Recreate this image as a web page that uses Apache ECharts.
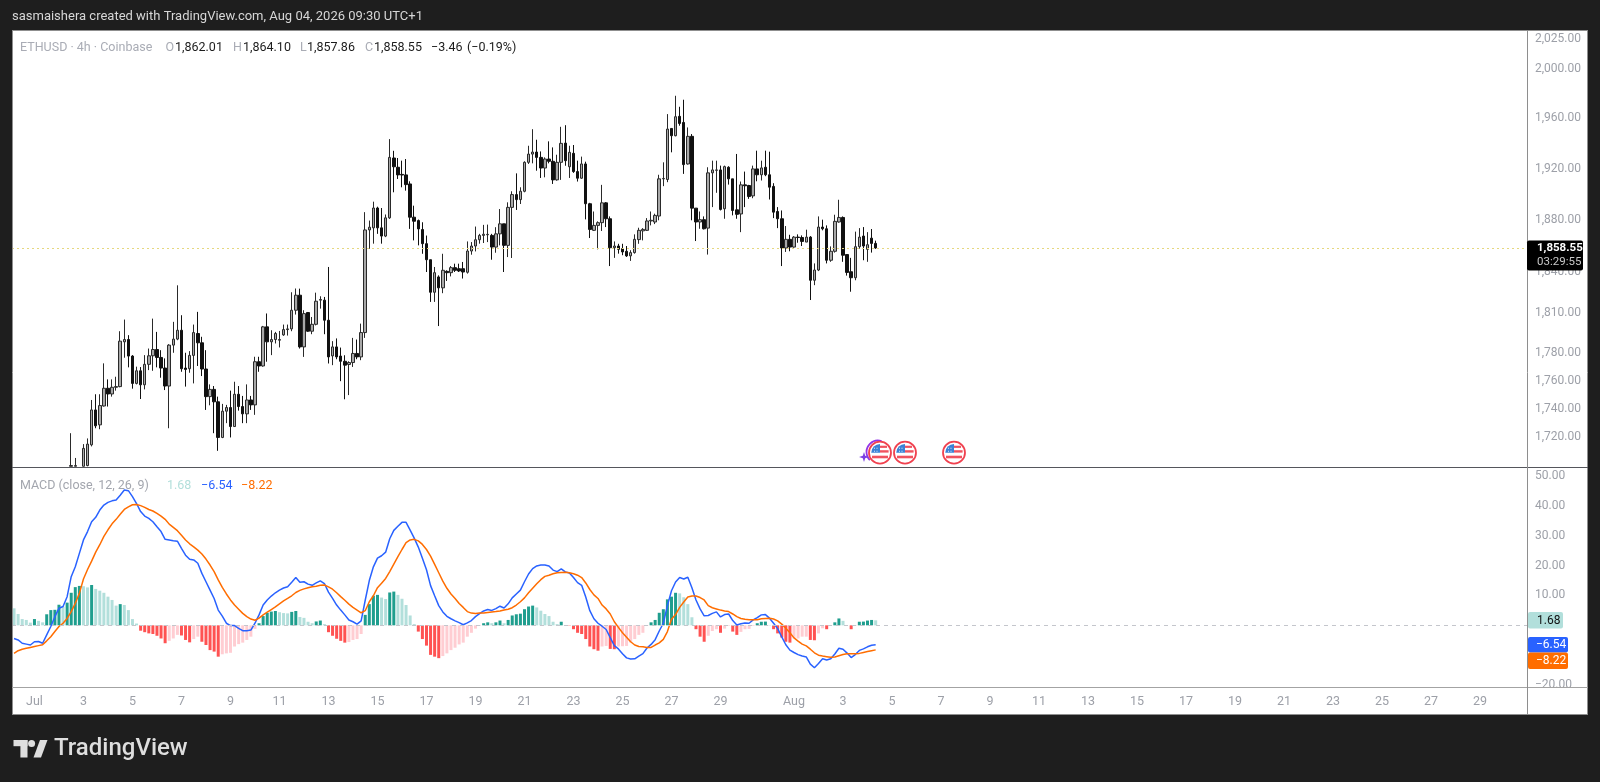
<!DOCTYPE html>
<html><head><meta charset="utf-8">
<style>html,body{margin:0;padding:0;background:#1e1e1e}#c{width:1600px;height:782px}</style>
<script src="https://cdn.jsdelivr.net/npm/echarts@6/dist/echarts.min.js"></script>
</head><body><div id="c"></div>
<script>
const priceTicks=[2025,2000,1960,1920,1880,1840,1810,1780,1760,1740,1720];
const macdTicks=[50,40,30,20,10,-20];
const julyLabels=['Jul','3','5','7','9','11','13','15','17','19','21','23','25','27','29'];
const augLabels=['Aug','3','5','7','9','11','13','15','17','19','21','23','25','27','29'];
const lastPrice=1858.55;
// [open, high, low, close] for each 4h bar; first bars lie under the visible pane
const priceBars=[
[null,null,null,null],[null,null,null,null],[null,null,null,null],[null,null,null,null],[null,null,null,null],[null,null,null,null],[null,null,null,null],
[null,null,null,null],[null,null,null,null],[null,null,null,null],[null,null,null,null],[null,null,null,null],[null,null,null,null],[null,null,null,null],
[1699.5,1722.7,1699.5,1700],[1699.5,1705.3,1699.5,1700],[null,null,null,null],[1699.5,1715,1699.5,1712],[1700,1719,1699.5,1715],
[1714.5,1746.3,1713.4,1739.2],[1739.2,1750.4,1726.2,1727.9],[1728.6,1750.4,1725.5,1742.3],[1742,1772.7,1741.6,1754.7],[1754.7,1761.1,1741.6,1750.6],
[1750.6,1761.1,1748.7,1755.4],[1755.4,1763,1753,1755.9],[1755.9,1796.2,1755.4,1788.9],[1788.4,1804.8,1776.8,1790.1],[1790.1,1793.3,1769.8,1778],
[1778,1778.7,1754.4,1758.2],[1758.2,1770.3,1757.5,1767.3],[1767.3,1770,1747,1757.2],[1757.2,1778.7,1753.9,1772],[1772,1783.5,1767.8,1778.2],
[1778.2,1805.5,1767.3,1782.8],[1782.8,1795.7,1769.8,1777],[1777,1782.3,1762.3,1769.3],[1769.3,1776.3,1753.4,1756.3],[1756.3,1786.7,1726.2,1786],
[1786,1803.1,1780.4,1790.4],[1790.4,1830.3,1789.6,1796.9],[1796.9,1808,1766.6,1768.8],[1769.3,1780.4,1755.9,1768.3],[1768.8,1781.6,1765.9,1778.5],
[1778.5,1801.1,1758.2,1795.2],[1794.5,1810.5,1770.8,1787.7],[1787.7,1792.1,1763.5,1768.6],[1768.6,1782.3,1739.2,1748.7],[1748.7,1757.5,1742.5,1753.9],
[1753.9,1756.3,1722.7,1745],[1745,1748.7,1710.3,1719.7],[1719.7,1743.5,1719.2,1738.3],[1738.3,1742.8,1729.8,1740.9],[1740.9,1753,1719.7,1727.4],
[1727.4,1759.4,1727.4,1750.4],[1750.4,1756.3,1738.7,1741.6],[1741.6,1749.2,1729.8,1736.4],[1736.4,1757.5,1729.8,1746.3],[1746.3,1749.2,1739.2,1742.8],
[1742.8,1777.5,1735.7,1773.9],[1773.9,1777.5,1766.6,1770.8],[1770.8,1800.1,1770.3,1799.4],[1799.4,1809.3,1773.9,1788.4],[1788.4,1796.9,1778.7,1790.1],
[1790.1,1795.7,1787.2,1794.5],[1789.6,1796.4,1784.3,1790.1],[1793.5,1801.1,1792.8,1797.4],[1797.4,1801.1,1793,1797.9],[1797.9,1825.1,1796.2,1811.7],
[1811.7,1827.9,1808.5,1822.9],[1822.9,1827.8,1783.5,1784.7],[1784.7,1811.7,1777.4,1809.2],[1810,1810.4,1795.7,1796.2],[1796.2,1806.7,1794,1801.3],
[1801.3,1824.8,1800.5,1818.4],[1819.2,1822.1,1812.9,1819.7],[1819.2,1821.6,1794,1804.3],[1804.3,1844.1,1772.6,1777.4],[1778.1,1788.9,1771.4,1784.7],
[1784.7,1790.9,1775.7,1777.4],[1778,1784.2,1759.8,1774.2],[1774.2,1778.6,1746.8,1771.4],[1771.9,1774.2,1749.8,1773.3],[1773.3,1791.3,1770.1,1779.9],
[1779.9,1790.1,1775.7,1777.4],[1777.4,1801.8,1775,1795.2],[1795.2,1886,1791.3,1872.3],[1872.3,1879.5,1857.9,1874.4],[1873.9,1894.1,1861.8,1889.2],
[1889.2,1890.2,1869.3,1873.9],[1873.9,1889.2,1861.8,1867.6],[1867.6,1884.2,1866.8,1881.6],[1881.6,1943.3,1880.8,1928.8],[1928.3,1934,1901.4,1921.4],
[1921,1928.3,1911.8,1915],[1915.4,1926.2,1905.3,1914.9],[1915,1927.5,1902.7,1907.4],[1907.9,1910,1873.1,1882.1],[1882.1,1891,1864.3,1879],
[1879.5,1880.3,1860.5,1873.1],[1872.6,1878.2,1854.1,1861.8],[1861.8,1868,1840.3,1849.6],[1849.6,1849.6,1817.9,1825.1],[1825.1,1844.1,1817.9,1839.8],
[1836.6,1837.8,1800,1828.4],[1828.4,1854.1,1824.4,1841.6],[1840.8,1841.6,1833.6,1839.8],[1839.8,1844.8,1837,1843.6],[1843.6,1846.6,1840.3,1841.6],
[1842.8,1846.6,1840.3,1841.1],[1842.8,1847.9,1835.4,1840.3],[1840.1,1863.5,1839.1,1856.2],[1856.2,1863,1853.4,1860],[1860,1874.9,1855.9,1864.8],
[1864.8,1869.3,1861.8,1868.1],[1868.1,1876.2,1862.3,1869],[1868.6,1876.4,1863,1868.9],[1868.1,1869.3,1849.6,1859.2],[1859.2,1874.4,1854.9,1869.3],
[1869.3,1888.4,1860.5,1877],[1877,1877,1840.3,1860.5],[1860.5,1893.6,1851.6,1889.7],[1889.7,1902.2,1850.9,1899.6],[1899.6,1916.2,1887.7,1895.7],
[1895.7,1905.3,1892.3,1902.2],[1902.2,1925.7,1901.4,1924.9],[1924.9,1938,1923.6,1931.4],[1931.4,1951.2,1924.1,1933],[1933,1942.8,1918.3,1928.8],
[1928.8,1933.5,1912.6,1920.4],[1920.4,1928.8,1913.1,1927.5],[1927.5,1941.5,1924.1,1925.7],[1925.7,1936.7,1907.9,1911.1],[1911.1,1930.9,1910.5,1924.9],
[1924.9,1953.1,1911.1,1939.9],[1940.1,1954.4,1922.2,1926.2],[1921.4,1938,1912.6,1932.8],[1932,1938.6,1916.6,1917.6],[1917.6,1926.2,1909.8,1912.4],
[1912.4,1929.4,1911.9,1923.6],[1923.6,1925.4,1880.4,1892.5],[1892.5,1893.2,1866.1,1872.7],[1872,1886.5,1871.5,1875.8],[1875.8,1878.9,1857.5,1877.9],
[1877.9,1907.2,1871.5,1893.2],[1893.2,1893.8,1874.5,1880.9],[1880.9,1882.7,1844.8,1858.7],[1858.7,1863.5,1851,1860],[1860,1861.7,1854.2,1857.5],
[1858,1861.7,1853,1855.5],[1856,1860,1851.7,1852.5],[1852.5,1856.8,1848.7,1855],[1855,1868.9,1854.2,1865.1],[1864.9,1874,1861.7,1872],
[1871.6,1873.7,1864.3,1872.7],[1872,1881.4,1871.5,1879.2],[1879.2,1886.5,1875.8,1879.7],[1878.4,1884.8,1876.8,1883.5],[1883,1915.1,1879.7,1911.9],
[1911.9,1924.9,1906.2,1912.2],[1911.4,1963.3,1909.3,1951.3],[1951.8,1951.8,1932.8,1946],[1946,1978.1,1945.5,1961.2],[1961.5,1969.2,1954,1955.8],
[1956.6,1974.9,1915.8,1923.1],[1923.6,1952.6,1923.1,1945.5],[1945.5,1947.3,1879.7,1889.1],[1889.1,1889.1,1863.8,1878.4],[1878.4,1886.5,1873.2,1880.2],
[1880.2,1882.7,1872.7,1873.2],[1873.7,1921,1853.5,1916.6],[1916.6,1926.2,1889.9,1918.9],[1918.6,1926.2,1901,1918.9],[1918.9,1922.3,1887.3,1888.1],
[1888.6,1922.3,1880.9,1921.5],[1921,1921.8,1907.4,1911.9],[1911.9,1911.9,1883.5,1887.3],[1887.8,1931.5,1880.9,1884.3],[1884.6,1909.8,1870.6,1907.2],
[1907.2,1917.6,1889.9,1906.5],[1906.7,1907.2,1896.3,1898.1],[1898.6,1922.3,1896.8,1919.7],[1919.7,1934.1,1910,1915.1],[1915.1,1926.2,1910.6,1920.5],
[1921,1934.1,1914,1915.1],[1915.1,1933.3,1895.8,1905.4],[1906,1908.5,1881.4,1886],[1886.5,1889.9,1873.7,1880.9],[1880.9,1887.3,1844.8,1858.5],
[1858.5,1875.3,1855.5,1865.1],[1865.1,1868.6,1856,1859.2],[1859.2,1867.6,1858.7,1866.8],[1866.8,1868.9,1862.5,1866.5],[1866.5,1868.1,1860,1863.5],
[1863,1872.5,1863,1866.8],[1866.8,1867.6,1819.3,1834.1],[1834.1,1846.8,1830.4,1841.8],[1841.8,1882.7,1841,1874.5],[1874.5,1880.2,1872,1873.2],
[1873.2,1875.8,1846.8,1849.2],[1849.2,1859.7,1848,1856],[1856,1884,1855,1878.9],[1878.4,1895.6,1877.9,1881.9],[1881.9,1882.7,1848,1853],
[1853.5,1853.5,1837.6,1840],[1840.5,1851,1825.5,1836],[1836,1871,1834.1,1859.5],[1859.5,1873.7,1858,1866.8],[1867.6,1874.5,1849.2,1860],
[1857.5,1870.6,1848,1861],[1866,1873,1855,1862],[1862.01,1864.1,1857.86,1858.55]
];
const macdLine=[
-4.4,-4.9,-6,-6.3,-6.6,-5.5,-5.4,-6,-3.2,-.4,
2.9,5.7,6.3,9.6,16.3,19.6,24.1,28.6,31.4,34.7,
36.2,38.6,40.3,41.2,41.7,42,43.6,45.3,45.1,43.1,
40.8,38.1,36.6,35.8,34.7,33,31.4,28.8,28.6,28.3,
28.2,25.8,23.5,22.1,21.9,20.8,17.4,14.6,11.8,9,
5.1,3.1,.7,-.1,-.1,-1,-1.8,-1.8,-1.6,.7,
3.5,6.8,8.5,9.8,10.9,11.8,12.5,12.9,14.4,16,
14.4,14.6,13.8,13.4,14.2,14.9,14,11.1,9,6.8,
5.1,3.5,1.8,1.2,.4,1.5,8.4,15,19.6,22.5,
23.3,24.5,29,31.8,33.2,34.5,34.5,31.9,29.2,26.2,
22.5,18.6,13.3,9.9,6.6,4.5,3,2.2,1.5,.9,
.2,.8,1.6,2.9,3.9,4.8,5.3,5,5.6,6.4,
5.8,7.2,9.2,10.5,11.8,14.6,17.2,19,19.9,20.2,
20.2,19.9,18.5,18,18.9,17.9,17.5,16,14.3,13.4,
9.5,4.9,2.2,.7,-.3,-1.4,-4.1,-6.8,-7.9,-9.5,
-10.9,-11.3,-11.2,-10.3,-9.5,-7.6,-6.4,-4.8,-1.9,.7,
6.6,11.6,14.5,16,15.5,16.1,12.6,8.5,5.5,3.2,
3.3,4,4.5,2.8,3.6,3.8,1.6,.1,.5,.8,
.7,1.8,2.6,3.5,3.6,2.4,.7,-1.1,-3.9,-6.5,
-8.3,-9.1,-9.8,-10.3,-10.6,-13,-14.2,-12.8,-11.2,-11.6,
-11.2,-9.6,-7.7,-8,-9.3,-10.8,-9.8,-8.4,-7.9,-7.2,
-6.7,-6.54];
const signalLine=[
-9.4,-8.5,-8,-7.7,-7.4,-7.1,-6.8,-6.5,-5.2,-3.8,
-2.1,-.4,.7,2.3,4.6,7.4,10.7,15.5,18.7,21.5,
24.5,27,29.8,32,34,35.5,37.2,38.8,39.7,40.4,
40.5,40.1,39.5,38.8,38.3,37.5,36.6,35.5,33.9,32.8,
31.7,30.2,28.6,27.3,26.3,25.2,23.9,22.2,20.2,18,
15.2,12.7,10.5,8.5,6.8,5.4,4,2.9,2.1,1.7,
2.4,3.5,4.4,5.3,6.2,7.2,8.2,9,9.9,11,
11.7,12.2,12.6,12.9,13.1,13.4,13.5,12.9,12.1,10.9,
9.6,8.4,7.1,6,5.1,4.2,4.9,7.9,9.9,12.6,
14.1,15.7,18,20.5,23,25.4,27.7,28.6,28.8,28.3,
27.1,25.4,23.2,20.4,17.6,14.8,12.4,10.5,9,7.3,
6,4.6,4.1,4,4.1,4.1,4.3,4.5,4.6,4.8,
5.1,5.4,5.9,6.8,7.9,9.2,10.9,12.4,13.9,15.3,
16.4,16.8,17.3,17.6,17.7,17.8,17.6,17.3,16.8,16,
14.2,12,10.2,9,6.8,5.5,3.8,1.2,-.7,-2.5,
-4,-5.5,-6.6,-7.1,-7.2,-7.4,-7.4,-6.6,-5.9,-4.7,
-2.1,2,3.6,6,7.8,9.5,9.8,9.8,9.3,8.5,
6.6,5.9,5.5,5.1,4.8,4.6,3.8,2.9,2.3,2,
1.9,1.9,1.9,2.2,2.3,2.4,2.1,1.5,.4,-1,
-2.5,-4.2,-5.3,-6.3,-6.9,-8,-9.2,-10,-10.3,-10.5,
-10.7,-10.6,-10.2,-9.8,-9.5,-9.5,-9.5,-9.4,-9.1,-8.8,
-8.5,-8.22];
const histogram=[
5.7,3.8,2.1,1.8,.9,2.1,1.5,1,3.7,5.1,
5.2,6.9,6.3,7.6,10.9,12.8,13.2,13.1,12.7,13.5,
12.2,11.6,10.9,9.6,8.5,6.6,7.1,6.8,5.1,2.1,
.6,-1.8,-2.3,-2.7,-2.9,-3.5,-4.4,-6,-5.2,-4.4,
-3.2,-3.4,-4.9,-5.7,-4.6,-3.8,-5.5,-6.6,-8.3,-8.8,
-10.5,-9.7,-9.4,-9.2,-7.1,-6.3,-5.8,-4.9,-3.8,-1.2,
.7,3.1,4.2,4.6,4.8,4.4,4.1,4,4.5,4.8,
2.8,2.5,1.2,.7,1.3,1.6,.4,-2.3,-3.5,-4.5,
-5.2,-5.8,-5.6,-4.9,-4.6,-2.9,3.5,7.1,9.9,10.2,
9.3,8.8,11,11.3,10.2,8.9,6.8,3.3,.4,-2.1,
-4.6,-6.8,-9.9,-10.5,-11,-10.3,-9.4,-8.3,-7.5,-6.4,
-5.8,-3.8,-2.5,-1.1,-.2,.7,1,.7,1,1.6,
.7,1.8,3.3,3.7,3.9,5.4,6.3,6.6,6,4.9,
3.8,3.1,1.2,.4,1.2,.1,-.1,-1.3,-2.5,-2.9,
-4.6,-7.1,-8,-8.5,-7.1,-6.9,-7.9,-8,-7.1,-7,
-6.9,-5.8,-4.6,-3.2,-2.5,-.2,1,1.8,4.2,5.4,
8.7,9.6,10.9,10.7,9.4,7.1,2.7,-1.3,-3.8,-5.5,
-3.5,-1.9,-1.3,-2.5,-1.1,-.2,-2.1,-3.2,-2.2,-1.3,
-1.2,-.2,.7,1.2,1.25,.1,-1.3,-2.7,-4.1,-5.5,
-5.8,-4.4,-4.4,-3.8,-3.8,-4.9,-5,-2.7,-1,-1.3,
-.2,1,2.3,1.5,.05,-1.3,-.2,1.2,1.25,1.6,
1.8,1.68];

// 4h slots: one label every 12 bars, July from slot 5, August from slot 191
const categories=new Array(371).fill('');
julyLabels.forEach((t,k)=>{categories[5+12*k]=t;});
augLabels.forEach((t,k)=>{categories[191+12*k]=t;});

const UI='Roboto, "Open Sans", sans-serif';
const GREY='#9da0a8';
const price=v=>v.toLocaleString('en-US',{minimumFractionDigits:2,maximumFractionDigits:2});
const candleData=priceBars.map(b=>[b[0],b[3],b[2],b[1]]);
const histData=histogram.map((v,i)=>{
  const p=i?histogram[i-1]:Infinity;
  const color=v>=0?(v>=p?'#1f9e8e':'#b2dfdb'):(v<p?'#ff5252':'#ffcdd2');
  return {value:v,itemStyle:{color}};
});

const txt=(x,y,text,fill,opt={})=>({type:'text',z:100,x,y,silent:true,style:Object.assign({text,fill,font:'12.5px '+UI,textVerticalAlign:'middle'},opt)});
const hl=(x1,y1,x2,y2,stroke,lineWidth=1)=>({type:'line',z:90,silent:true,shape:{x1,y1,x2,y2},style:{stroke,lineWidth}});
const box=(x,y,width,height,fill,r=0,z=95)=>({type:'rect',z,silent:true,shape:{x,y,width,height,r},style:{fill}});
const flag=(cx,cy)=>({type:'group',z:98,x:cx,y:cy,silent:true,children:[
  {type:'circle',z:98,shape:{cx:0,cy:0,r:11},style:{fill:'#fff',stroke:'#f0414f',lineWidth:1.8}},
  {type:'sector',z:98,shape:{cx:0,cy:0,r:8.8,startAngle:Math.PI,endAngle:Math.PI*1.5},style:{fill:'#3b82d6'}},
  box(0,-7,7,2.2,'#f0525f',0,98),box(0,-2.5,8.6,2.4,'#f0525f',0,98),box(-8,3,16,2.6,'#f0525f',0,98),
  box(-6,-5,1,1,'#dbe8f7',0,99),box(-3.5,-5,1,1,'#dbe8f7',0,99),box(-6,-2,1,1,'#dbe8f7',0,99),box(-3.5,-2,1,1,'#dbe8f7',0,99)
]});

const graphic=[
  box(12,30,1576,685,'#ffffff',0,-10),
  hl(12,30.5,1588,30.5,'#8f8f8f'),hl(12.5,30,12.5,715,'#8f8f8f'),hl(1587.5,30,1587.5,715,'#8f8f8f'),hl(12,714.5,1588,714.5,'#8f8f8f'),
  hl(12,467.5,1588,467.5,'#55565c'),hl(12,687.5,1588,687.5,'#a3a3a3',1.2),hl(1527.5,30,1527.5,715,'#8e8e8e'),
  txt(12,17,'sasmaishera created with TradingView.com, Aug 04, 2026 09:30 UTC+1','#d6d6d6',{font:'13px '+UI}),
  txt(20,47.5,'ETHUSD · 4h · Coinbase','#a9acb5'),
  txt(165.5,47.5,'O','#a9acb5'),txt(175,47.5,'1,862.01','#1c1c1c'),
  txt(233,47.5,'H','#a9acb5'),txt(243,47.5,'1,864.10','#1c1c1c'),
  txt(300,47.5,'L','#a9acb5'),txt(307,47.5,'1,857.86','#1c1c1c'),
  txt(365,47.5,'C','#a9acb5'),txt(374,47.5,'1,858.55','#1c1c1c'),
  txt(431,47.5,'−3.46','#1c1c1c'),txt(467,47.5,'(−0.19%)','#1c1c1c'),
  txt(20,485.5,'MACD (close, 12, 26, 9)','#a3a6ae'),
  txt(167,485.5,'1.68','#b2dfdb'),txt(201,485.5,'−6.54','#2962ff'),txt(241,485.5,'−8.22','#ff6d00'),
  box(1527,240.5,56,30,'#000000',2),
  txt(1537,248.5,'1,858.55','#ffffff',{font:'bold 11.5px '+UI}),
  txt(1537,262,'03:29:55','#c8c8c8',{font:'11.5px '+UI}),
  box(1528,612,35,16.5,'#b2dfdb',2),txt(1537,620.5,'1.68','#111111',{font:'12px '+UI}),
  box(1528,637,40,15.5,'#2962ff',2),txt(1536,645,'−6.54','#ffffff',{font:'12px '+UI}),
  box(1528,652.5,40,16.5,'#ff6d00',2),txt(1536,661,'−8.22','#ffffff',{font:'12px '+UI}),
  {type:'arc',z:96,silent:true,shape:{cx:878,cy:452,r:11.5,startAngle:Math.PI*0.75,endAngle:Math.PI*1.6},style:{stroke:'#9334e6',lineWidth:1.8,fill:null}},
  {type:'polygon',z:97,silent:true,shape:{points:[[864,452],[865.2,455.8],[869,457],[865.2,458.2],[864,462],[862.8,458.2],[859,457],[862.8,455.8]]},style:{fill:'#7b3fe4'}},
  flag(880,452.7),flag(905,452.7),flag(954,452.7),
  box(13.5,740,14,6.2,'#dedede',0),box(20.4,740,7.1,17.5,'#dedede',0),
  {type:'circle',z:95,silent:true,shape:{cx:31.6,cy:743.6,r:3.5},style:{fill:'#dedede'}},
  {type:'polygon',z:95,silent:true,shape:{points:[[33.5,757.5],[41,757.5],[47.5,740],[40,740]]},style:{fill:'#dedede'}},
  txt(54,749,'TradingView','#dedede',{font:'500 24px Roboto, sans-serif'})
];

const option={
  animation:false,backgroundColor:'#1e1e1e',graphic,
  axisPointer:{show:false},
  grid:[{left:12,right:73,top:31,height:436,show:false},{left:12,right:73,top:468,height:219,show:false}],
  xAxis:[
    {type:'category',gridIndex:0,data:categories,axisLine:{show:false},axisTick:{show:false},axisLabel:{show:false},splitLine:{show:false}},
    {type:'category',gridIndex:1,data:categories,axisLine:{show:false},axisTick:{show:false},splitLine:{show:false},
     axisLabel:{color:GREY,fontFamily:UI,fontSize:12.5,margin:8,hideOverlap:false,interval:(i,v)=>v!==''}}
  ],
  yAxis:[
    {type:'log',gridIndex:0,position:'right',min:1699,max:2031.3,splitLine:{show:false},axisLine:{show:false},axisTick:{show:false},minorTick:{show:false},
     axisLabel:{customValues:priceTicks,color:GREY,fontFamily:UI,fontSize:12,margin:8,padding:[2,0,0,0],formatter:v=>price(v)}},
    {type:'value',gridIndex:1,position:'right',min:-20.66,max:52.7,splitLine:{show:false},axisLine:{show:false},axisTick:{show:false},
     axisLabel:{customValues:macdTicks,color:GREY,fontFamily:UI,fontSize:12,margin:8,padding:[2,0,0,0],formatter:v=>(v<0?'−':'')+Math.abs(v).toFixed(2)}}
  ],
  series:[
    {type:'candlestick',name:'ETHUSD',xAxisIndex:0,yAxisIndex:0,data:candleData,barWidth:3,clip:true,
     itemStyle:{color:'#a8a8a8',color0:'#111111',borderColor:'#2a2a2a',borderColor0:'#111111',borderWidth:1},
     markLine:{silent:true,symbol:'none',label:{show:false},lineStyle:{color:'#e6d77f',type:[2,3],width:1},data:[{yAxis:lastPrice}]}},
    {type:'bar',name:'Histogram',xAxisIndex:1,yAxisIndex:1,data:histData,barWidth:3,
     markLine:{silent:true,symbol:'none',label:{show:false},lineStyle:{color:'#c4c6cc',type:[4,4],width:1},data:[{yAxis:0}]}},
    {type:'line',name:'MACD',xAxisIndex:1,yAxisIndex:1,data:macdLine,symbol:'none',lineStyle:{color:'#2962ff',width:1.5}},
    {type:'line',name:'Signal',xAxisIndex:1,yAxisIndex:1,data:signalLine,symbol:'none',lineStyle:{color:'#ff6d00',width:1.5}}
  ]
};
echarts.init(document.getElementById('c'),null,{renderer:'canvas',width:1600,height:782}).setOption(option);
</script></body></html>
